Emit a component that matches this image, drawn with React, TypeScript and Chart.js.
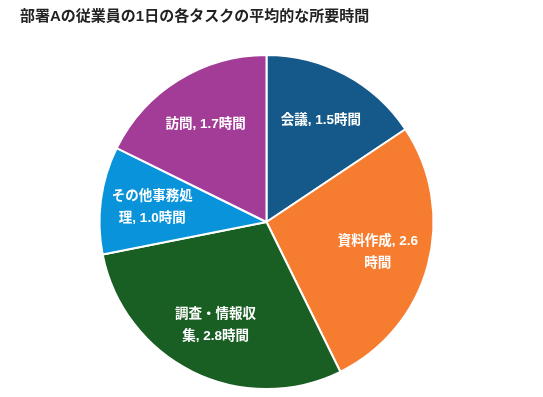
import React, { useEffect, useRef } from "react";
import { Chart, registerables } from "chart.js";

Chart.register(...registerables);

const TITLE = "部署Aの従業員の1日の各タスクの平均的な所要時間";
const LABELS = ["会議", "資料作成", "調査・情報収集", "その他事務処理", "訪問"];
const VALUES = [1.5, 2.6, 2.8, 1.0, 1.7];
const UNIT = "時間";
const COLORS = ["#14598a", "#f67c30", "#195e22", "#0993db", "#a33c97"];

const FONT = "'Liberation Sans', 'Noto Sans CJK JP', sans-serif";

function wrapChars(ctx: CanvasRenderingContext2D, text: string, maxW: number): string[] {
  const lines: string[] = [];
  let cur = "";
  for (const ch of Array.from(text)) {
    const test = cur + ch;
    if (cur && ctx.measureText(test).width > maxW) {
      lines.push(cur.trim());
      cur = ch;
    } else {
      cur = test;
    }
  }
  if (cur) lines.push(cur.trim());
  return lines;
}

const sliceLabels = {
  id: "sliceLabels",
  afterDatasetsDraw(chart: any) {
    const ctx = chart.ctx as CanvasRenderingContext2D;
    const meta = chart.getDatasetMeta(0);
    ctx.save();
    ctx.fillStyle = "#ffffff";
    ctx.font = `bold 13.5px ${FONT}`;
    ctx.textAlign = "center";
    ctx.textBaseline = "middle";
    meta.data.forEach((arc: any, i: number) => {
      const p = arc.getProps(["x", "y", "startAngle", "endAngle", "outerRadius"], true);
      const mid = (p.startAngle + p.endAngle) / 2;
      const r = p.outerRadius * 0.69;
      const cx = p.x + Math.cos(mid) * r;
      const cy = p.y + Math.sin(mid) * r;
      const text = `${LABELS[i]}, ${VALUES[i].toFixed(1)}${UNIT}`;
      const lines = wrapChars(ctx, text, 88);
      const lh = 22;
      const y0 = cy - ((lines.length - 1) * lh) / 2;
      lines.forEach((ln, k) => ctx.fillText(ln, cx, y0 + k * lh));
    });
    ctx.restore();
  },
};

export default function App() {
  const ref = useRef<HTMLCanvasElement | null>(null);
  useEffect(() => {
    document.body.style.margin = "0";
    const chart = new Chart(ref.current as HTMLCanvasElement, {
      type: "pie",
      data: {
        labels: LABELS,
        datasets: [
          {
            data: VALUES,
            backgroundColor: COLORS,
            borderColor: "#ffffff",
            borderWidth: 2,
          },
        ],
      },
      options: {
        responsive: false,
        animation: false,
        layout: { padding: { left: 20, right: 30, top: 0, bottom: 7 } },
        plugins: {
          legend: { display: false },
          tooltip: { enabled: false },
          title: {
            display: true,
            text: TITLE,
            align: "start",
            color: "#222222",
            font: { family: FONT, size: 15, weight: "bold" },
            padding: { top: 8, bottom: 28 },
          },
        },
      },
      plugins: [sliceLabels],
    });
    return () => chart.destroy();
  }, []);
  return (
    <div style={{ position: "absolute", left: 0, top: 0, width: 543, height: 397 }}>
      <canvas ref={ref} width={543} height={397} style={{ width: 543, height: 397 }} />
    </div>
  );
}
